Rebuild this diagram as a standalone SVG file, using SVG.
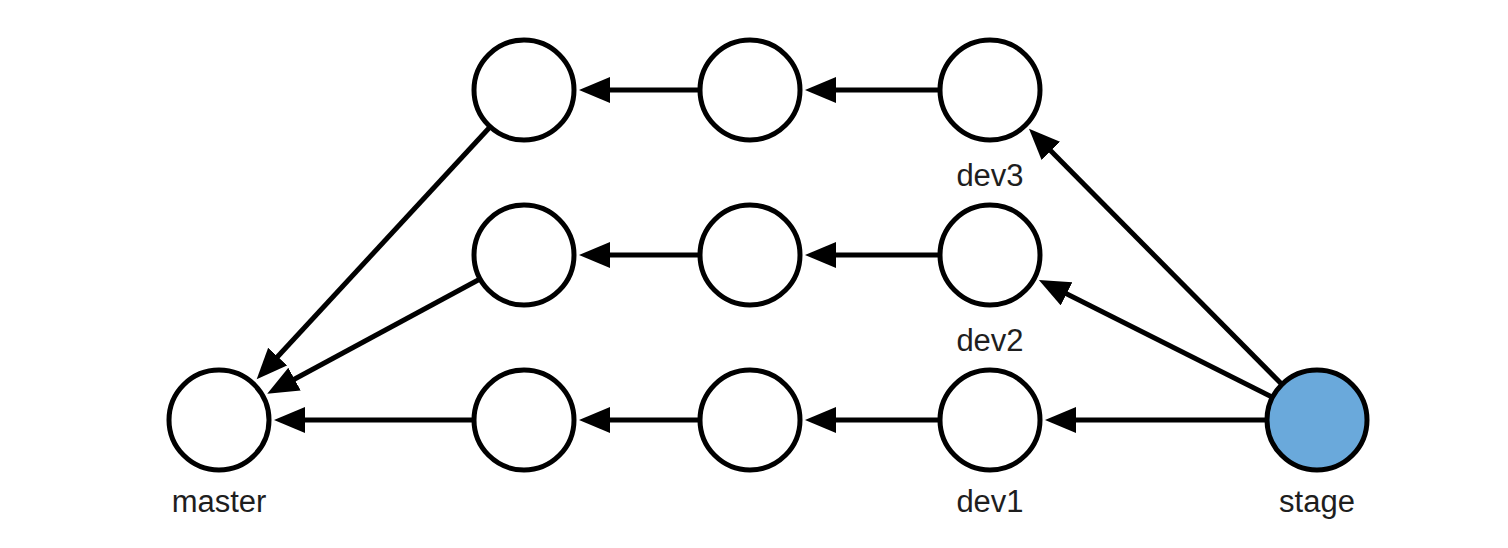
<svg xmlns="http://www.w3.org/2000/svg" width="1508" height="548" viewBox="0 0 1508 548">
<style>
.n{fill:#ffffff;stroke:#000000;stroke-width:5}
.s{fill:#6aa9db;stroke:#000000;stroke-width:5}
.e{stroke:#000000;stroke-width:5;fill:none;marker-end:url(#ah)}
.t{font-family:"Liberation Sans",Arial,sans-serif;font-size:31px;fill:#1e1e1e;text-anchor:middle}
</style>
<defs>
<marker id="ah" markerUnits="userSpaceOnUse" markerWidth="34" markerHeight="28" refX="4" refY="13" orient="auto">
<path d="M0,0 L31,13 L0,26 Z" fill="#000000"/>
</marker>
</defs>
<rect width="1508" height="548" fill="#ffffff"/>
<g id="connectors">
<line class="e" x1="700" y1="90" x2="606" y2="90"/>
<line class="e" x1="940" y1="90" x2="832" y2="90"/>
<line class="e" x1="700" y1="255" x2="606" y2="255"/>
<line class="e" x1="940" y1="255" x2="832" y2="255"/>
<line class="e" x1="700" y1="420" x2="606" y2="420"/>
<line class="e" x1="940" y1="420" x2="832" y2="420"/>
<line class="e" x1="474" y1="420" x2="301" y2="420"/>
<line class="e" x1="1267" y1="420" x2="1072" y2="420"/>
<line class="e" x1="1272" y1="397" x2="1063" y2="292"/>
<line class="e" x1="1282" y1="384.5" x2="1048" y2="148"/>
<line class="e" x1="490" y1="127" x2="275" y2="359.5"/>
<line class="e" x1="480" y1="279" x2="291" y2="381"/>
</g>
<g id="master"><circle class="n" cx="219" cy="420" r="50"/><text class="t" x="219" y="512">master</text></g>
<g id="t2"><circle class="n" cx="524" cy="90" r="50"/></g>
<g id="t3"><circle class="n" cx="750" cy="90" r="50"/></g>
<g id="dev3"><circle class="n" cx="990" cy="90" r="50"/><text class="t" x="990" y="186">dev3</text></g>
<g id="m2"><circle class="n" cx="524" cy="255" r="50"/></g>
<g id="m3"><circle class="n" cx="750" cy="255" r="50"/></g>
<g id="dev2"><circle class="n" cx="990" cy="255" r="50"/><text class="t" x="990" y="351">dev2</text></g>
<g id="b2"><circle class="n" cx="524" cy="420" r="50"/></g>
<g id="b3"><circle class="n" cx="750" cy="420" r="50"/></g>
<g id="dev1"><circle class="n" cx="990" cy="420" r="50"/><text class="t" x="990" y="512">dev1</text></g>
<g id="stage"><circle class="s" cx="1317" cy="420" r="50"/><text class="t" x="1317" y="512">stage</text></g>
</svg>
